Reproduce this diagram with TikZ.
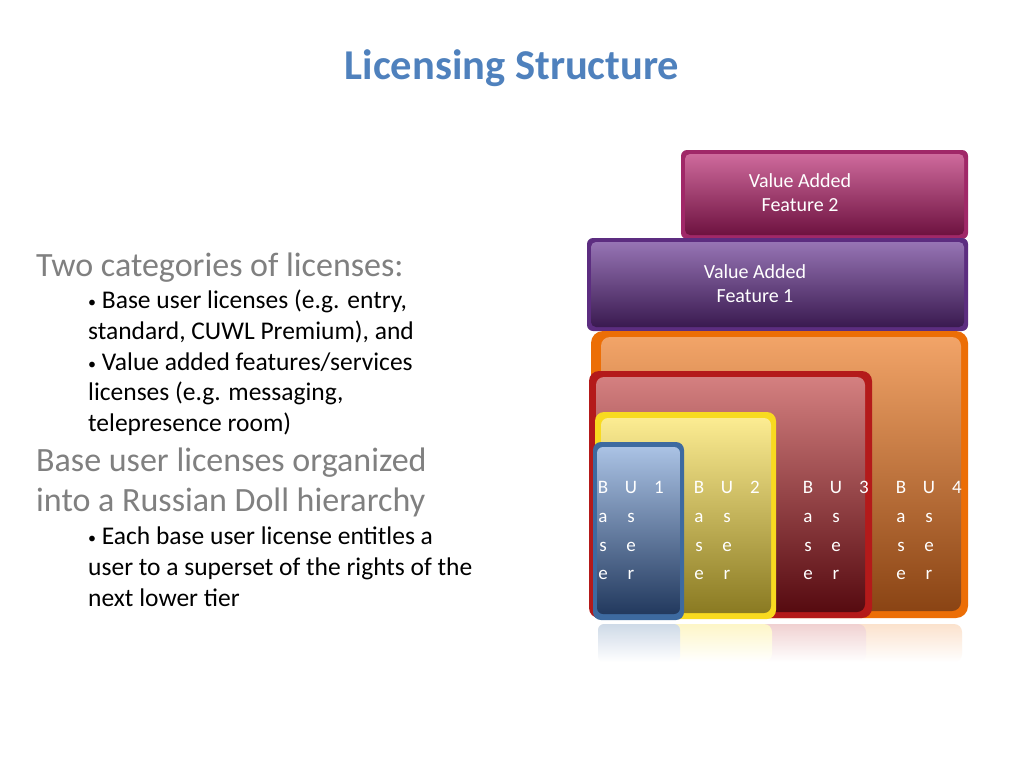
\documentclass[tikz,border=0pt]{standalone}
\usepackage{fontspec}
\setmainfont{Carlito}
\definecolor{titleblue}{HTML}{4F81BD}
\definecolor{graytxt}{HTML}{808080}
\definecolor{orB}{HTML}{EC6E06}\definecolor{orT}{HTML}{F2A468}\definecolor{orM}{HTML}{DC6206}\definecolor{orD}{HTML}{8A4414}
\definecolor{reB}{HTML}{B41A1A}\definecolor{reT}{HTML}{D48080}\definecolor{reM}{HTML}{A21416}\definecolor{reD}{HTML}{560A10}
\definecolor{yeB}{HTML}{F8DA20}\definecolor{yeT}{HTML}{FCEC92}\definecolor{yeM}{HTML}{E6C622}\definecolor{yeD}{HTML}{8A7A22}
\definecolor{blB}{HTML}{3D6AA0}\definecolor{blT}{HTML}{AAC2E4}\definecolor{blM}{HTML}{3A64A0}\definecolor{blD}{HTML}{22395E}
\definecolor{mgB}{HTML}{A02868}\definecolor{mgT}{HTML}{CE6A9C}\definecolor{mgM}{HTML}{A0205E}\definecolor{mgD}{HTML}{6E1240}
\definecolor{puB}{HTML}{5C2D80}\definecolor{puT}{HTML}{9674B4}\definecolor{puM}{HTML}{562878}\definecolor{puD}{HTML}{3A1A50}
\newcommand{\bul}{{\fontsize{16}{16}\selectfont\raisebox{0.5pt}{•}}}
\tikzset{
  big/.style={anchor=base west, text=graytxt, font=\fontsize{34}{34}\selectfont, inner sep=0pt},
  small/.style={anchor=base west, text=black, font=\fontsize{25.5}{25.5}\selectfont, inner sep=0pt},
  bu/.style={anchor=base, text=white, font=\fontsize{19}{19}\selectfont, inner sep=0pt},
  va/.style={anchor=base, text=white, font=\fontsize{20}{20}\selectfont, inner sep=0pt},
}
\begin{document}
\begin{tikzpicture}[x=1pt,y=-1pt]
\useasboundingbox (0,0) rectangle (1024,768);
\fill[white] (0,0) rectangle (1024,768);
% title
\node[anchor=base, text=titleblue, font=\fontsize{42.5}{42.5}\selectfont\bfseries, inner sep=0pt] (title) at (512,79) {Licensing Structure};
% left text
\node[big] (t1) at (36,276) {Two categories of licenses:};
\node[small] (t2) at (88,308) {\bul\ Base user licenses (e.g. entry,};
\node[small] (t3) at (88,339) {standard, CUWL Premium), and};
\node[small] (t4) at (88,370) {\bul\ Value added features/services};
\node[small] (t5) at (88,400) {licenses (e.g. messaging,};
\node[small] (t6) at (88,431) {telepresence room)};
\node[big] (t7) at (36,471) {Base user licenses organized};
\node[big] (t8) at (36,511) {into a Russian Doll hierarchy};
\node[small] (t9) at (88,544) {\bul\ Each base user license entitles a};
\node[small] (t10) at (88,575) {user to a superset of the rights of the};
\node[small] (t11) at (88,606) {next lower tier};
% reflection
\shade[rounded corners=8pt, top color=orB!20, bottom color=white] (598,624) rectangle (962,662);
\shade[rounded corners=8pt, top color=reB!20, bottom color=white] (598,624) rectangle (866,662);
\shade[rounded corners=8pt, top color=yeB!25, bottom color=white] (600,624) rectangle (772,662);
\shade[rounded corners=6pt, top color=blB!25, bottom color=white] (598,624) rectangle (680,662);
% value added 2
\fill[mgB, rounded corners=6pt] (681,150) rectangle (968,239);
\shade[rounded corners=5pt, top color=mgT, middle color=mgM, bottom color=mgD] (685,154) rectangle (964,235);
\node[va] (va2a) at (800,187) {Value Added};
\node[va] (va2b) at (800,211) {Feature 2};
% value added 1
\fill[puB, rounded corners=6pt] (587,238) rectangle (968,331);
\shade[rounded corners=5pt, top color=puT, middle color=puM, bottom color=puD] (591,242) rectangle (964,327);
\node[va] (va1a) at (755,278) {Value Added};
\node[va] (va1b) at (755,302) {Feature 1};
% orange
\fill[orB, rounded corners=12pt] (591,331) rectangle (968,618);
\shade[rounded corners=9pt, top color=orT, middle color=orM, bottom color=orD] (601,337) rectangle (961,611);
% red
\fill[reB, rounded corners=10pt] (589,371) rectangle (872,618);
\shade[rounded corners=8pt, top color=reT, middle color=reM, bottom color=reD] (596,377) rectangle (865,612);
% yellow
\fill[yeB, rounded corners=9pt] (595,412) rectangle (776,619);
\shade[rounded corners=7pt, top color=yeT, middle color=yeM, bottom color=yeD] (601,418) rectangle (771,613);
% blue
\fill[blB, rounded corners=8pt] (593,442) rectangle (684,620);
\shade[rounded corners=6pt, top color=blT, middle color=blM, bottom color=blD] (597,447) rectangle (680,614);
% BU labels
\foreach \n/\x in {1/603,2/699,3/808,4/901}{
  \node[bu] (b\n a) at (\x,493) {B};
  \node[bu] (b\n b) at (\x+28,493) {U};
  \node[bu] (b\n c) at (\x+56,493) {\n};
  \node[bu] (b\n d) at (\x,522) {a};
  \node[bu] (b\n e) at (\x+28,522) {s};
  \node[bu] (b\n f) at (\x,551) {s};
  \node[bu] (b\n g) at (\x+28,551) {e};
  \node[bu] (b\n h) at (\x,579) {e};
  \node[bu] (b\n i) at (\x+28,579) {r};
}
\end{tikzpicture}
\end{document}
